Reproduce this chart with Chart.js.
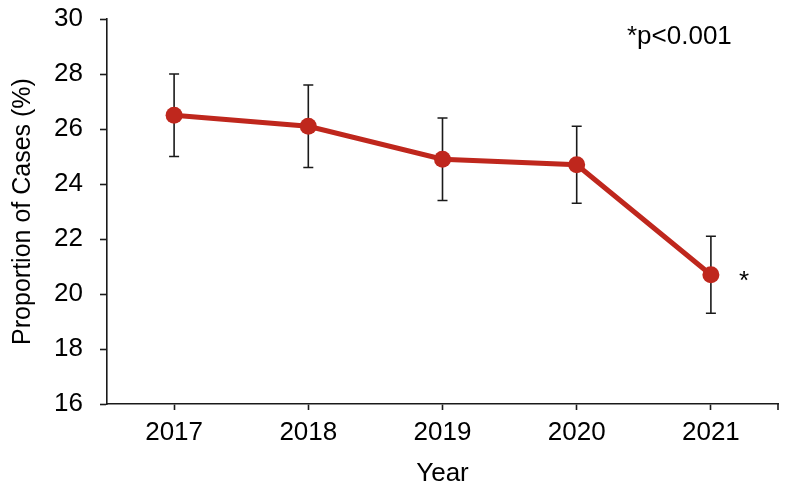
<!DOCTYPE html>
<html>
<head>
<meta charset="utf-8">
<script src="https://cdn.jsdelivr.net/npm/chart.js@4"></script>
<style>
  html, body { margin: 0; padding: 0; background: #ffffff; }
  #wrap { width: 789px; height: 495px; }
</style>
</head>
<body>
<div id="wrap"><canvas id="proportion-chart"></canvas></div>
<script>
(function () {
  // データ
  const YEARS = ['2017', '2018', '2019', '2020', '2021'];
  const PROPORTION = [26.5, 26.1, 24.9, 24.7, 20.7];
  const ERR_LOW = [25.0, 24.6, 23.4, 23.3, 19.3];
  const ERR_HIGH = [28.0, 27.6, 26.4, 26.1, 22.1];
  const SIGNIFICANT = [false, false, false, false, true];

  const RED = '#bf271d';
  const INK = '#1a1a1a';
  const FONT = 'Liberation Sans, Arial, sans-serif';

  // エラーバーと注釈
  const errorBars = {
    id: 'errorBars',
    beforeDatasetsDraw(chart) {
      const c = chart.ctx;
      const x = chart.scales.x;
      const y = chart.scales.y;
      c.save();
      c.strokeStyle = INK;
      c.lineWidth = 1.6;
      YEARS.forEach(function (yr, i) {
        const px = x.getPixelForValue(i);
        const lo = y.getPixelForValue(ERR_LOW[i]);
        const hi = y.getPixelForValue(ERR_HIGH[i]);
        c.beginPath();
        c.moveTo(px, lo); c.lineTo(px, hi);
        c.moveTo(px - 5, lo); c.lineTo(px + 5, lo);
        c.moveTo(px - 5, hi); c.lineTo(px + 5, hi);
        c.stroke();
      });
      c.restore();
    },
    afterDraw(chart) {
      const c = chart.ctx;
      const x = chart.scales.x;
      const y = chart.scales.y;
      const area = chart.chartArea;
      c.save();
      // 右端の目盛り
      c.strokeStyle = INK;
      c.lineWidth = 1.6;
      c.beginPath();
      c.moveTo(area.right, area.bottom);
      c.lineTo(area.right, area.bottom + 6);
      c.stroke();

      c.fillStyle = '#000000';
      c.font = '26px ' + FONT;
      c.textBaseline = 'middle';
      c.textAlign = 'left';
      SIGNIFICANT.forEach(function (sig, i) {
        if (!sig) return;
        c.fillText('*', x.getPixelForValue(i) + 28, y.getPixelForValue(PROPORTION[i]) + 7);
      });
      c.fillText('*p<0.001', 627, 37);
      c.restore();
    },
  };

  new Chart(document.getElementById('proportion-chart'), {
    type: 'line',
    data: {
      labels: YEARS,
      datasets: [
        {
          data: PROPORTION,
          borderColor: RED,
          backgroundColor: RED,
          borderWidth: 5,
          pointRadius: 8.5,
          pointHoverRadius: 8.5,
          pointBorderWidth: 0,
          tension: 0,
        },
      ],
    },
    options: {
      responsive: true,
      maintainAspectRatio: false,
      animation: false,
      layout: {
        padding: { top: 19, right: 11, bottom: 0, left: 0 },
      },
      plugins: {
        legend: { display: false },
        tooltip: { enabled: false },
      },
      scales: {
        x: {
          offset: true,
          afterFit: function (scale) { scale.height = 91; },
          border: { display: true, color: INK, width: 1.6 },
          grid: {
            drawOnChartArea: false,
            drawTicks: true,
            tickLength: 6,
            tickWidth: 1.6,
            tickColor: INK,
            offset: false,
          },
          ticks: {
            color: '#000000',
            padding: 7,
            font: { family: FONT, size: 26 },
          },
          title: {
            display: true,
            text: 'Year',
            color: '#000000',
            font: { family: FONT, size: 26 },
            padding: { top: 0, bottom: 6 },
          },
        },
        y: {
          min: 16,
          max: 30,
          afterFit: function (scale) {
            scale.width = 107;
            scale.paddingTop = 0;
            scale.paddingBottom = 0;
          },
          border: { display: true, color: INK, width: 1.6 },
          grid: {
            drawOnChartArea: false,
            drawTicks: true,
            tickLength: 7,
            tickWidth: 1.6,
            tickColor: INK,
          },
          ticks: {
            stepSize: 2,
            color: '#000000',
            padding: 17,
            font: { family: FONT, size: 26 },
          },
          title: {
            display: true,
            text: 'Proportion of Cases (%)',
            color: '#000000',
            font: { family: FONT, size: 25 },
            padding: { top: 8, bottom: 0 },
          },
        },
      },
    },
    plugins: [errorBars],
  });
})();
</script>
</body>
</html>
